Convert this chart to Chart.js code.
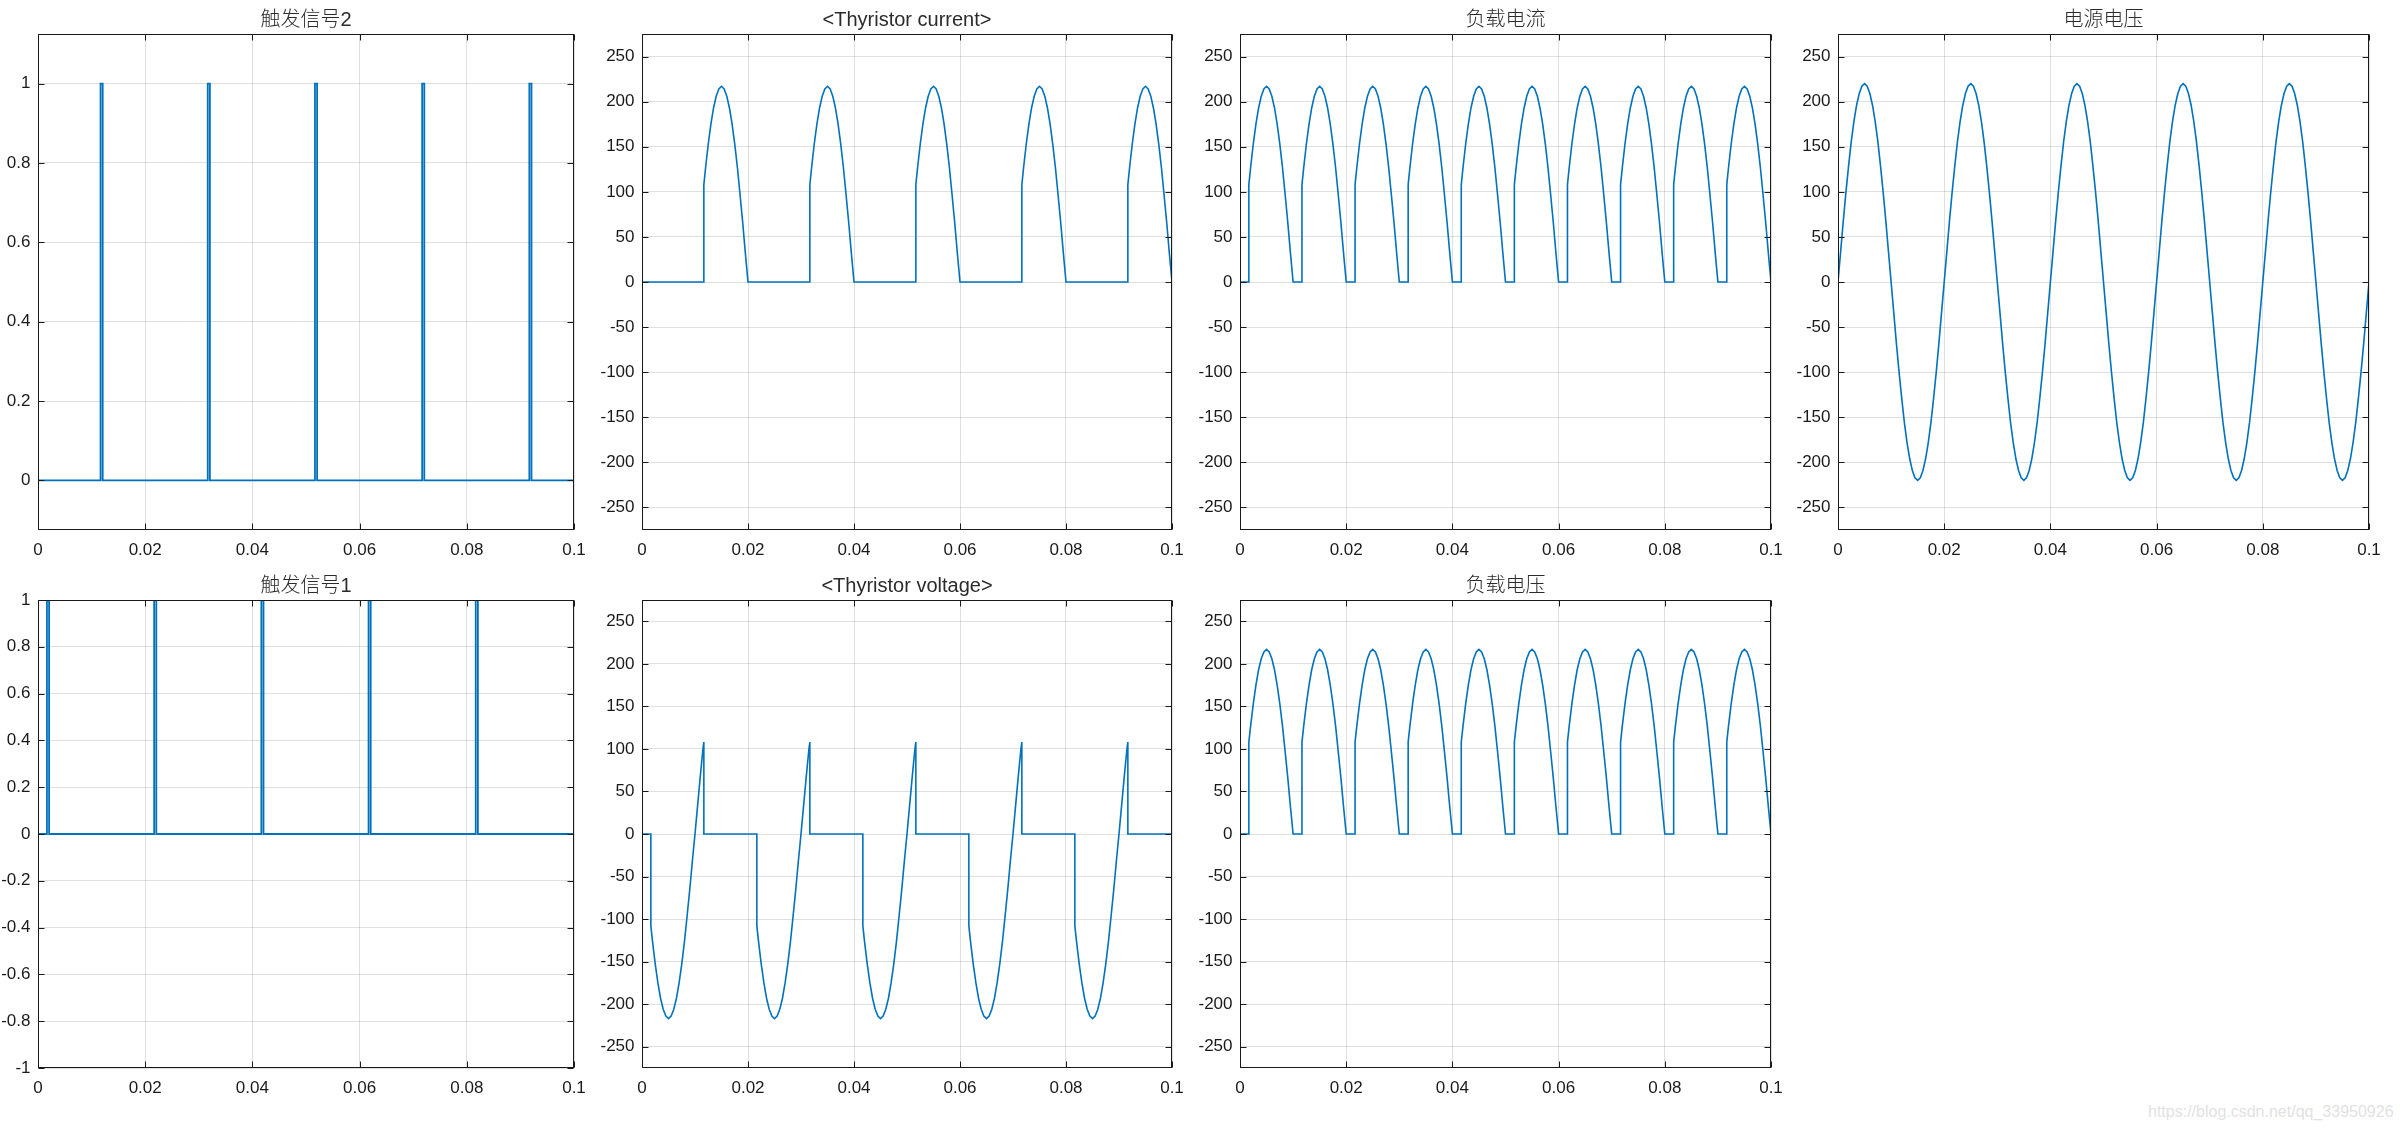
<!DOCTYPE html>
<html>
<head>
<meta charset="utf-8">
<script src="https://cdn.jsdelivr.net/npm/chart.js@4.4.0/dist/chart.umd.min.js"></script>
<style>
html,body{margin:0;padding:0;background:#fff;}
body{width:2400px;height:1133px;position:relative;overflow:hidden;}
canvas{position:absolute;}
#wm{position:absolute;left:2148px;top:1103px;font:16px "Liberation Sans",Arial,sans-serif;color:#e2e2e2;white-space:nowrap;}
</style>
</head>
<body>
<div id="wm">https://blog.csdn.net/qq_33950926</div>
<script>
// ---------- tick labels ----------
const timeTicks = [0, 0.02, 0.04, 0.06, 0.08, 0.1];
const timeTickLabels = ['0', '0.02', '0.04', '0.06', '0.08', '0.1'];
const trigger2Ticks = [0, 0.2, 0.4, 0.6, 0.8, 1];
const trigger2TickLabels = ['0', '0.2', '0.4', '0.6', '0.8', '1'];
const trigger1Ticks = [-1, -0.8, -0.6, -0.4, -0.2, 0, 0.2, 0.4, 0.6, 0.8, 1];
const trigger1TickLabels = ['-1', '-0.8', '-0.6', '-0.4', '-0.2', '0', '0.2', '0.4', '0.6', '0.8', '1'];
const powerTicks = [-250, -200, -150, -100, -50, 0, 50, 100, 150, 200, 250];
const powerTickLabels = ['-250', '-200', '-150', '-100', '-50', '0', '50', '100', '150', '200', '250'];

// ---------- titles ----------
const titles = ['触发信号2', '<Thyristor current>', '负载电流', '电源电压', '触发信号1', '<Thyristor voltage>', '负载电压'];

// ---------- series (time in ms) ----------
const trigger2T = [0, 11.67, 11.67, 12.07, 12.07, 31.67, 31.67, 32.07, 32.07, 51.67, 51.67, 52.07, 52.07, 71.67, 71.67, 72.07, 72.07, 91.67, 91.67, 92.07, 92.07, 100];
const trigger2V = [0, 0, 1, 1, 0, 0, 1, 1, 0, 0, 1, 1, 0, 0, 1, 1, 0, 0, 1, 1, 0, 0];

const trigger1T = [0, 1.67, 1.67, 2.07, 2.07, 21.67, 21.67, 22.07, 22.07, 41.67, 41.67, 42.07, 42.07, 61.67, 61.67, 62.07, 62.07, 81.67, 81.67, 82.07, 82.07, 100];
const trigger1V = [0, 0, 1, 1, 0, 0, 1, 1, 0, 0, 1, 1, 0, 0, 1, 1, 0, 0, 1, 1, 0, 0];

const sourceStepMs = 0.5;
const sourceVoltage = [
  0, 34, 68, 100, 129, 156, 178, 196, 209, 217, 220, 217, 209, 196, 178, 156, 129, 100, 68, 34,
  0, -34, -68, -100, -129, -156, -178, -196, -209, -217, -220, -217, -209, -196, -178, -156, -129, -100, -68, -34,
  0, 34, 68, 100, 129, 156, 178, 196, 209, 217, 220, 217, 209, 196, 178, 156, 129, 100, 68, 34,
  0, -34, -68, -100, -129, -156, -178, -196, -209, -217, -220, -217, -209, -196, -178, -156, -129, -100, -68, -34,
  0, 34, 68, 100, 129, 156, 178, 196, 209, 217, 220, 217, 209, 196, 178, 156, 129, 100, 68, 34,
  0, -34, -68, -100, -129, -156, -178, -196, -209, -217, -220, -217, -209, -196, -178, -156, -129, -100, -68, -34,
  0, 34, 68, 100, 129, 156, 178, 196, 209, 217, 220, 217, 209, 196, 178, 156, 129, 100, 68, 34,
  0, -34, -68, -100, -129, -156, -178, -196, -209, -217, -220, -217, -209, -196, -178, -156, -129, -100, -68, -34,
  0, 34, 68, 100, 129, 156, 178, 196, 209, 217, 220, 217, 209, 196, 178, 156, 129, 100, 68, 34,
  0, -34, -68, -100, -129, -156, -178, -196, -209, -217, -220, -217, -209, -196, -178, -156, -129, -100, -68, -34,
  0
];

const loadT = [0,
  1.67, 1.67, 2, 2.5, 3, 3.5, 4, 4.5, 5, 5.5, 6, 6.5, 7, 7.5, 8, 8.5, 9, 9.5, 10,
  11.67, 11.67, 12, 12.5, 13, 13.5, 14, 14.5, 15, 15.5, 16, 16.5, 17, 17.5, 18, 18.5, 19, 19.5, 20,
  21.67, 21.67, 22, 22.5, 23, 23.5, 24, 24.5, 25, 25.5, 26, 26.5, 27, 27.5, 28, 28.5, 29, 29.5, 30,
  31.67, 31.67, 32, 32.5, 33, 33.5, 34, 34.5, 35, 35.5, 36, 36.5, 37, 37.5, 38, 38.5, 39, 39.5, 40,
  41.67, 41.67, 42, 42.5, 43, 43.5, 44, 44.5, 45, 45.5, 46, 46.5, 47, 47.5, 48, 48.5, 49, 49.5, 50,
  51.67, 51.67, 52, 52.5, 53, 53.5, 54, 54.5, 55, 55.5, 56, 56.5, 57, 57.5, 58, 58.5, 59, 59.5, 60,
  61.67, 61.67, 62, 62.5, 63, 63.5, 64, 64.5, 65, 65.5, 66, 66.5, 67, 67.5, 68, 68.5, 69, 69.5, 70,
  71.67, 71.67, 72, 72.5, 73, 73.5, 74, 74.5, 75, 75.5, 76, 76.5, 77, 77.5, 78, 78.5, 79, 79.5, 80,
  81.67, 81.67, 82, 82.5, 83, 83.5, 84, 84.5, 85, 85.5, 86, 86.5, 87, 87.5, 88, 88.5, 89, 89.5, 90,
  91.67, 91.67, 92, 92.5, 93, 93.5, 94, 94.5, 95, 95.5, 96, 96.5, 97, 97.5, 98, 98.5, 99, 99.5, 100
];
const loadVoltage = [0,
  0, 108, 127, 153, 175, 193, 206, 214, 217, 214, 206, 193, 175, 153, 127, 97, 66, 32, 0,
  0, 108, 127, 153, 175, 193, 206, 214, 217, 214, 206, 193, 175, 153, 127, 97, 66, 32, 0,
  0, 108, 127, 153, 175, 193, 206, 214, 217, 214, 206, 193, 175, 153, 127, 97, 66, 32, 0,
  0, 108, 127, 153, 175, 193, 206, 214, 217, 214, 206, 193, 175, 153, 127, 97, 66, 32, 0,
  0, 108, 127, 153, 175, 193, 206, 214, 217, 214, 206, 193, 175, 153, 127, 97, 66, 32, 0,
  0, 108, 127, 153, 175, 193, 206, 214, 217, 214, 206, 193, 175, 153, 127, 97, 66, 32, 0,
  0, 108, 127, 153, 175, 193, 206, 214, 217, 214, 206, 193, 175, 153, 127, 97, 66, 32, 0,
  0, 108, 127, 153, 175, 193, 206, 214, 217, 214, 206, 193, 175, 153, 127, 97, 66, 32, 0,
  0, 108, 127, 153, 175, 193, 206, 214, 217, 214, 206, 193, 175, 153, 127, 97, 66, 32, 0,
  0, 108, 127, 153, 175, 193, 206, 214, 217, 214, 206, 193, 175, 153, 127, 97, 66, 32, 0
];
const loadCurrent = [0,
  0, 108, 127, 153, 175, 193, 206, 214, 217, 214, 206, 193, 175, 153, 127, 97, 66, 32, 0,
  0, 108, 127, 153, 175, 193, 206, 214, 217, 214, 206, 193, 175, 153, 127, 97, 66, 32, 0,
  0, 108, 127, 153, 175, 193, 206, 214, 217, 214, 206, 193, 175, 153, 127, 97, 66, 32, 0,
  0, 108, 127, 153, 175, 193, 206, 214, 217, 214, 206, 193, 175, 153, 127, 97, 66, 32, 0,
  0, 108, 127, 153, 175, 193, 206, 214, 217, 214, 206, 193, 175, 153, 127, 97, 66, 32, 0,
  0, 108, 127, 153, 175, 193, 206, 214, 217, 214, 206, 193, 175, 153, 127, 97, 66, 32, 0,
  0, 108, 127, 153, 175, 193, 206, 214, 217, 214, 206, 193, 175, 153, 127, 97, 66, 32, 0,
  0, 108, 127, 153, 175, 193, 206, 214, 217, 214, 206, 193, 175, 153, 127, 97, 66, 32, 0,
  0, 108, 127, 153, 175, 193, 206, 214, 217, 214, 206, 193, 175, 153, 127, 97, 66, 32, 0,
  0, 108, 127, 153, 175, 193, 206, 214, 217, 214, 206, 193, 175, 153, 127, 97, 66, 32, 0
];

const thyCurrentT = [0,
  11.67, 11.67, 12, 12.5, 13, 13.5, 14, 14.5, 15, 15.5, 16, 16.5, 17, 17.5, 18, 18.5, 19, 19.5, 20,
  31.67, 31.67, 32, 32.5, 33, 33.5, 34, 34.5, 35, 35.5, 36, 36.5, 37, 37.5, 38, 38.5, 39, 39.5, 40,
  51.67, 51.67, 52, 52.5, 53, 53.5, 54, 54.5, 55, 55.5, 56, 56.5, 57, 57.5, 58, 58.5, 59, 59.5, 60,
  71.67, 71.67, 72, 72.5, 73, 73.5, 74, 74.5, 75, 75.5, 76, 76.5, 77, 77.5, 78, 78.5, 79, 79.5, 80,
  91.67, 91.67, 92, 92.5, 93, 93.5, 94, 94.5, 95, 95.5, 96, 96.5, 97, 97.5, 98, 98.5, 99, 99.5, 100
];
const thyCurrent = [0,
  0, 108, 127, 153, 175, 193, 206, 214, 217, 214, 206, 193, 175, 153, 127, 97, 66, 32, 0,
  0, 108, 127, 153, 175, 193, 206, 214, 217, 214, 206, 193, 175, 153, 127, 97, 66, 32, 0,
  0, 108, 127, 153, 175, 193, 206, 214, 217, 214, 206, 193, 175, 153, 127, 97, 66, 32, 0,
  0, 108, 127, 153, 175, 193, 206, 214, 217, 214, 206, 193, 175, 153, 127, 97, 66, 32, 0,
  0, 108, 127, 153, 175, 193, 206, 214, 217, 214, 206, 193, 175, 153, 127, 97, 66, 32, 0
];

const thyVoltageT = [0,
  1.67, 1.67, 2, 2.5, 3, 3.5, 4, 4.5, 5, 5.5, 6, 6.5, 7, 7.5, 8, 8.5, 9, 9.5, 10, 10.5, 11, 11.5, 11.67, 11.67,
  21.67, 21.67, 22, 22.5, 23, 23.5, 24, 24.5, 25, 25.5, 26, 26.5, 27, 27.5, 28, 28.5, 29, 29.5, 30, 30.5, 31, 31.5, 31.67, 31.67,
  41.67, 41.67, 42, 42.5, 43, 43.5, 44, 44.5, 45, 45.5, 46, 46.5, 47, 47.5, 48, 48.5, 49, 49.5, 50, 50.5, 51, 51.5, 51.67, 51.67,
  61.67, 61.67, 62, 62.5, 63, 63.5, 64, 64.5, 65, 65.5, 66, 66.5, 67, 67.5, 68, 68.5, 69, 69.5, 70, 70.5, 71, 71.5, 71.67, 71.67,
  81.67, 81.67, 82, 82.5, 83, 83.5, 84, 84.5, 85, 85.5, 86, 86.5, 87, 87.5, 88, 88.5, 89, 89.5, 90, 90.5, 91, 91.5, 91.67, 91.67,
  100
];
const thyVoltage = [0,
  0, -108, -127, -153, -175, -193, -206, -214, -217, -214, -206, -193, -175, -153, -127, -97, -66, -32, 0, 34, 68, 100, 108, 0,
  0, -108, -127, -153, -175, -193, -206, -214, -217, -214, -206, -193, -175, -153, -127, -97, -66, -32, 0, 34, 68, 100, 108, 0,
  0, -108, -127, -153, -175, -193, -206, -214, -217, -214, -206, -193, -175, -153, -127, -97, -66, -32, 0, 34, 68, 100, 108, 0,
  0, -108, -127, -153, -175, -193, -206, -214, -217, -214, -206, -193, -175, -153, -127, -97, -66, -32, 0, 34, 68, 100, 108, 0,
  0, -108, -127, -153, -175, -193, -206, -214, -217, -214, -206, -193, -175, -153, -127, -97, -66, -32, 0, 34, 68, 100, 108, 0,
  0
];

// ---------- styling / layout ----------
const FONT = '"Liberation Sans", Arial, "Noto Sans CJK SC", sans-serif';
const LINE = '#0072BD';
const GRID = 'rgba(38,38,38,0.15)';
const colL = [38, 642, 1240, 1838];
const colR = [574, 1172, 1771, 2369];
const rowT = [34, 600];
const rowB = [530, 1068];
const PAD_L = 70, PAD_T = 34, PAD_R = 40, PAD_B = 42;

function toPoints(tMs, v) {
  return v.map((y, i) => ({ x: tMs[i] / 1000, y: y }));
}

const framePlugin = {
  id: 'frame',
  afterDraw(chart, args, opts) {
    const { ctx, chartArea: a, scales } = chart;
    const L = Math.round(a.left) + 0.5, R = Math.round(a.right) - 0.5;
    const T = Math.round(a.top) + 0.5, B = Math.round(a.bottom) - 0.5;
    const TL = 6;
    ctx.save();
    ctx.strokeStyle = '#1a1a1a';
    ctx.lineWidth = 1;
    ctx.beginPath();
    scales.x.ticks.forEach(t => {
      const px = Math.round(scales.x.getPixelForValue(t.value)) + 0.5;
      ctx.moveTo(px, B); ctx.lineTo(px, B - TL);
      ctx.moveTo(px, T); ctx.lineTo(px, T + TL);
    });
    scales.y.ticks.forEach(t => {
      const py = Math.round(scales.y.getPixelForValue(t.value)) + 0.5;
      ctx.moveTo(L, py); ctx.lineTo(L + TL, py);
      ctx.moveTo(R, py); ctx.lineTo(R - TL, py);
    });
    ctx.stroke();
    ctx.strokeRect(L, T, R - L, B - T);
    ctx.fillStyle = '#2b2b2b';
    ctx.font = '300 20px ' + FONT;
    ctx.textAlign = 'center';
    ctx.textBaseline = 'alphabetic';
    ctx.fillText(opts.title, (a.left + a.right) / 2, a.top - 8.5);
    ctx.restore();
  }
};

function makePanel(p) {
  const w = (p.right - p.left) + PAD_L + PAD_R;
  const h = (p.bottom - p.top) + PAD_T + PAD_B;
  const c = document.createElement('canvas');
  c.width = w; c.height = h;
  c.style.left = (p.left - PAD_L) + 'px';
  c.style.top = (p.top - PAD_T) + 'px';
  c.style.width = w + 'px';
  c.style.height = h + 'px';
  document.body.appendChild(c);
  const tickFont = { family: FONT, size: 17 };
  new Chart(c, {
    type: 'line',
    data: {
      datasets: [{
        data: p.points,
        borderColor: LINE,
        borderWidth: p.lineWidth || 1.6,
        pointRadius: 0,
        tension: 0,
        fill: false
      }]
    },
    options: {
      responsive: false,
      maintainAspectRatio: false,
      animation: false,
      devicePixelRatio: 1,
      layout: { padding: { left: 0, top: PAD_T, right: PAD_R, bottom: 0 } },
      plugins: {
        legend: { display: false },
        tooltip: { enabled: false },
        title: { display: false },
        frame: { title: p.title }
      },
      scales: {
        x: {
          type: 'linear', min: 0, max: 0.1, bounds: 'data',
          afterBuildTicks: s => { s.ticks = timeTicks.map(v => ({ value: v })); },
          afterFit: s => { s.height = PAD_B; },
          grid: { color: GRID, lineWidth: 1, drawTicks: false },
          border: { display: false },
          ticks: {
            autoSkip: false, maxRotation: 0, padding: 10, color: '#1a1a1a', font: tickFont,
            callback: (v, i) => timeTickLabels[i]
          }
        },
        y: {
          type: 'linear', min: p.yMin, max: p.yMax, bounds: 'data',
          afterBuildTicks: s => { s.ticks = p.yTicks.map(v => ({ value: v })); },
          afterFit: s => { s.width = PAD_L; },
          grid: { color: GRID, lineWidth: 1, drawTicks: false },
          border: { display: false },
          ticks: {
            autoSkip: false, padding: 7.5, color: '#1a1a1a', font: tickFont,
            callback: (v, i) => p.yTickLabels[i]
          }
        }
      }
    },
    plugins: [framePlugin]
  });
}

const sourceT = sourceVoltage.map((_, i) => i * sourceStepMs);

const panels = [
  { col: 0, row: 0, title: titles[0], t: trigger2T, v: trigger2V, yMin: -0.125, yMax: 1.125, yTicks: trigger2Ticks, yTickLabels: trigger2TickLabels },
  { col: 1, row: 0, title: titles[1], t: thyCurrentT, v: thyCurrent, yMin: -275, yMax: 275, yTicks: powerTicks, yTickLabels: powerTickLabels },
  { col: 2, row: 0, title: titles[2], t: loadT, v: loadCurrent, yMin: -275, yMax: 275, yTicks: powerTicks, yTickLabels: powerTickLabels },
  { col: 3, row: 0, title: titles[3], t: sourceT, v: sourceVoltage, yMin: -275, yMax: 275, yTicks: powerTicks, yTickLabels: powerTickLabels },
  { col: 0, row: 1, title: titles[4], t: trigger1T, v: trigger1V, yMin: -1, yMax: 1, yTicks: trigger1Ticks, yTickLabels: trigger1TickLabels },
  { col: 1, row: 1, title: titles[5], t: thyVoltageT, v: thyVoltage, yMin: -275, yMax: 275, yTicks: powerTicks, yTickLabels: powerTickLabels },
  { col: 2, row: 1, title: titles[6], t: loadT, v: loadVoltage, yMin: -275, yMax: 275, yTicks: powerTicks, yTickLabels: powerTickLabels }
];

panels.forEach(p => {
  makePanel({
    left: colL[p.col], right: colR[p.col], top: rowT[p.row], bottom: rowB[p.row],
    title: p.title, points: toPoints(p.t, p.v),
    yMin: p.yMin, yMax: p.yMax, yTicks: p.yTicks, yTickLabels: p.yTickLabels,
    lineWidth: p.col === 0 ? 1.8 : 1.6
  });
});
</script>
</body>
</html>
